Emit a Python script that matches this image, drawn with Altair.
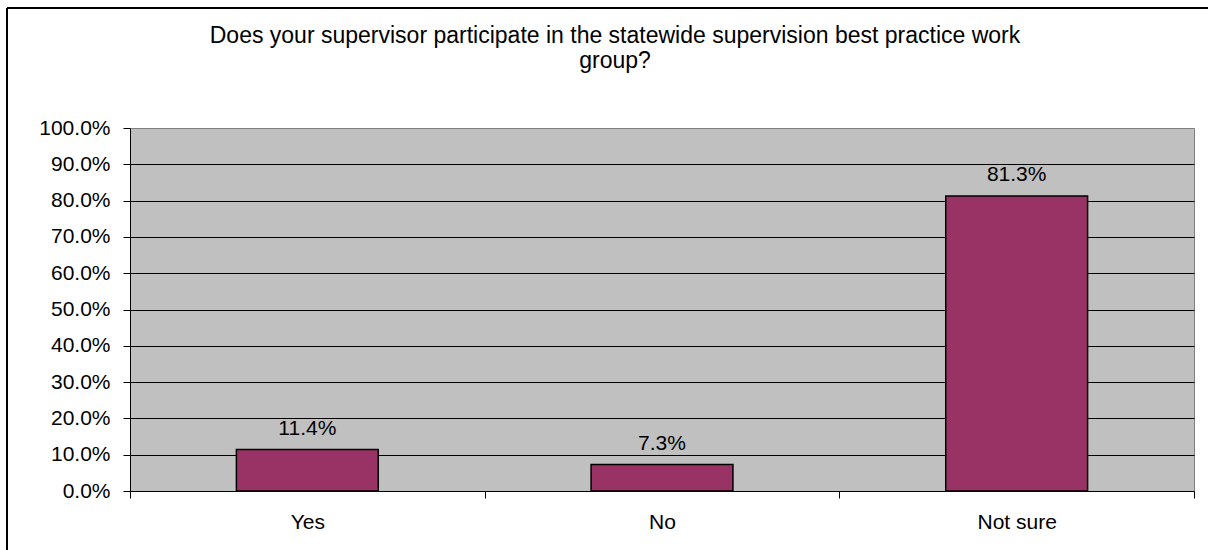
import altair as alt
import pandas as pd

categories = ["Yes", "No", "Not sure"]
values = [0.114, 0.073, 0.813]
y_ticks = [0.0, 0.1, 0.2, 0.3, 0.4, 0.5, 0.6, 0.7, 0.8, 0.9, 1.0]
title_lines = [
    "Does your supervisor participate in the statewide supervision best practice work",
    "group?",
]

df = pd.DataFrame({"answer": categories, "share": values})

FONT = "Liberation Sans"
W, H = 1064, 363
PAD = {"left": 130, "top": 128, "right": 14, "bottom": 59}

base = alt.Chart(df).encode(
    x=alt.X(
        "answer:N",
        sort=categories,
        title=None,
        scale=alt.Scale(paddingInner=0, paddingOuter=0),
        axis=alt.Axis(
            labelAngle=0,
            tickBand="extent",
            tickSize=7,
            tickColor="black",
            domainColor="black",
            labelFont=FONT,
            labelFontSize=21,
            labelColor="black",
            labelPadding=13,
            grid=False,
        ),
    ),
    y=alt.Y(
        "share:Q",
        title=None,
        scale=alt.Scale(domain=[0, 1], nice=False),
        axis=alt.Axis(
            format=".1%",
            values=y_ticks,
            tickSize=7,
            tickColor="black",
            domainColor="black",
            labelFont=FONT,
            labelFontSize=21,
            labelColor="black",
            labelPadding=13,
            grid=True,
            gridColor={"condition": {"test": "datum.value >= 1", "value": "#808080"}, "value": "black"},
            gridOpacity=1,
            gridWidth=1,
        ),
    ),
)

bars = base.mark_bar(
    width=alt.RelativeBandSize(0.4),
    color="#993366",
    stroke="black",
    strokeWidth=1.5,
)

labels = base.mark_text(
    dy=-15, baseline="alphabetic", font=FONT, fontSize=21, color="black"
).encode(text=alt.Text("share:Q", format=".1%"))

frame_df = pd.DataFrame({"k": [0]})
left_border = alt.Chart(frame_df).mark_rule(color="black", strokeWidth=2).encode(
    x=alt.value(-123), y=alt.value(-120), y2=alt.value(H + 70)
)
top_border = alt.Chart(frame_df).mark_rule(color="black", strokeWidth=2).encode(
    y=alt.value(-120), x=alt.value(-123), x2=alt.value(W + 30)
)

title_text = alt.Chart(frame_df).mark_text(
    text=title_lines,
    font=FONT,
    fontSize=23,
    color="black",
    align="center",
    baseline="alphabetic",
    lineHeight=25,
).encode(x=alt.value(485), y=alt.value(-85))

chart = (
    alt.layer(bars, labels, left_border, top_border, title_text)
    .properties(
        width=W,
        height=H,
        padding=PAD,
        autosize=alt.AutoSizeParams(type="none"),
        background="white",
    )
    .configure_view(stroke="#808080", fill="#C0C0C0", strokeWidth=1)
)

chart.save("out.html", embed_options={"renderer": "svg", "actions": False})
